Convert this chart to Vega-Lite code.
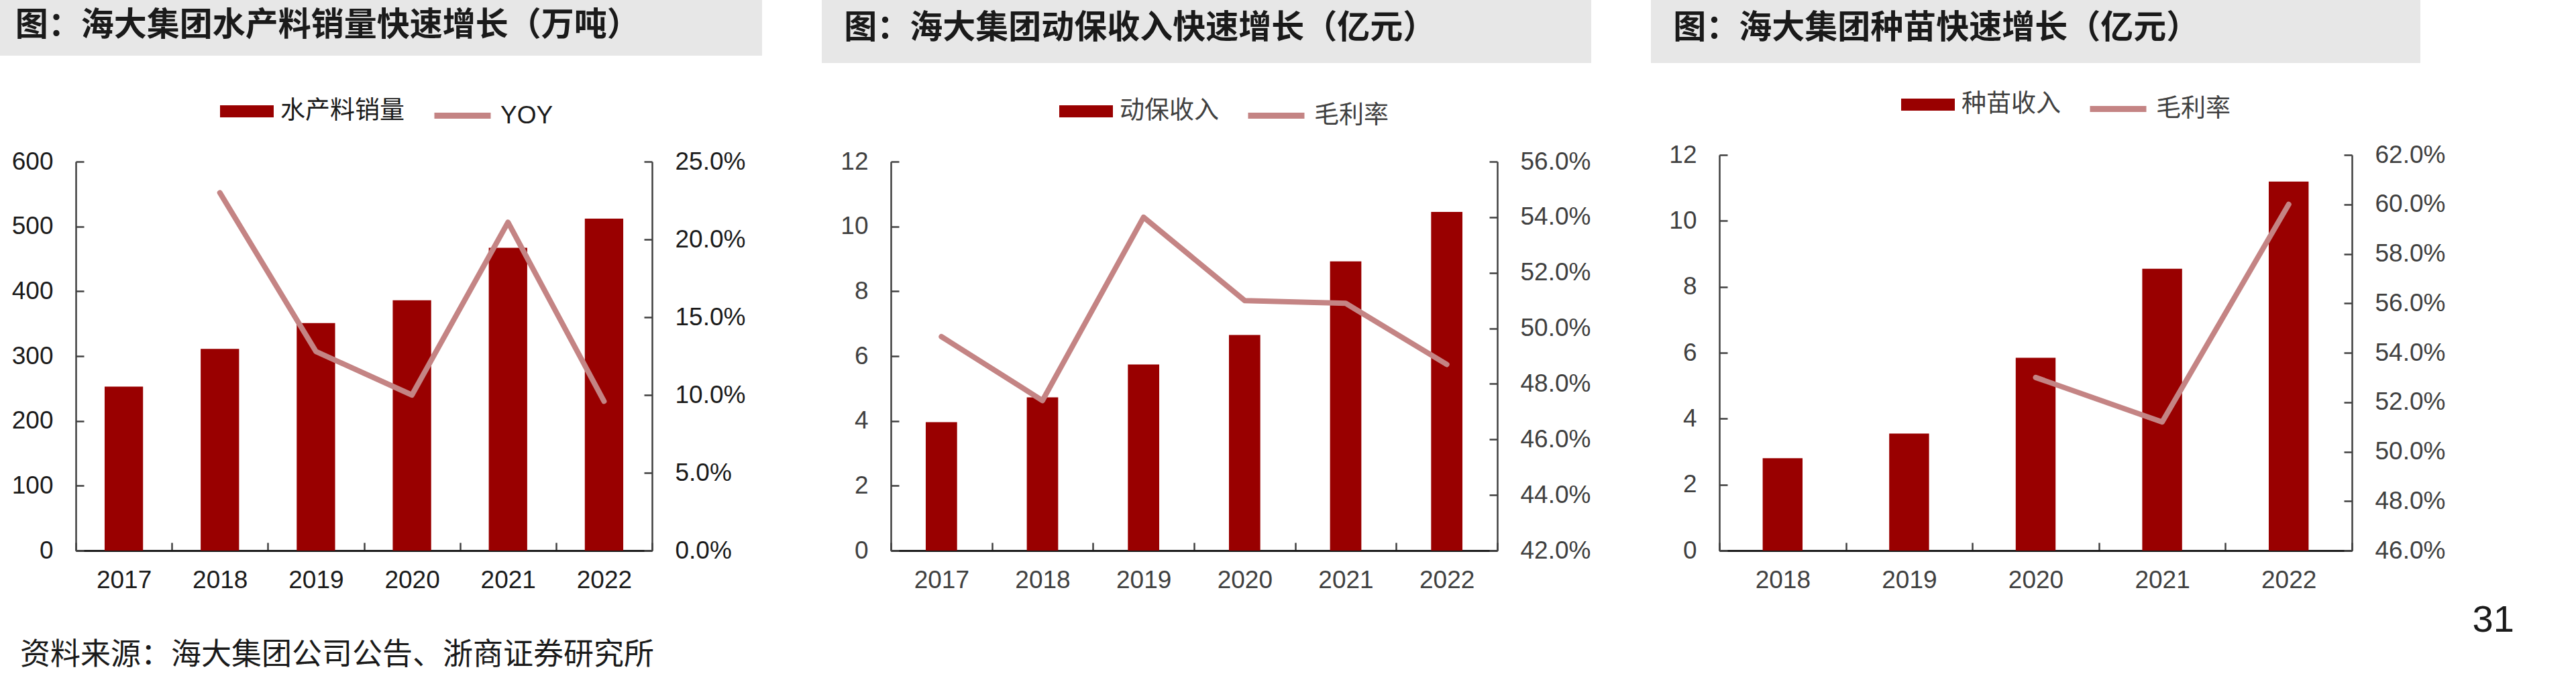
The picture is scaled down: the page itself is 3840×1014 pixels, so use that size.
{
  "$schema": "https://vega.github.io/schema/vega-lite/v6.json",
  "padding": 0,
  "background": "#ffffff",
  "spacing": 0,
  "resolve": {"scale": {"fill": "independent", "stroke": "independent"}, "legend": {"fill": "independent", "stroke": "independent"}},
  "vconcat": [
    {
      "spacing": 89,
      "resolve": {"scale": {"fill": "independent", "stroke": "independent"}, "legend": {"fill": "independent", "stroke": "independent"}},
      "hconcat": [
        {
          "spacing": 43,
          "resolve": {"scale": {"fill": "independent", "stroke": "independent"}, "legend": {"fill": "independent", "stroke": "independent"}},
          "vconcat": [
            {
              "width": 1136, "height": 83,
              "view": {"fill": "#e7e7e7", "stroke": null},
              "data": {"values": [{"t": "图：海大集团水产料销量快速增长（万吨）"}]},
              "mark": {"type": "text", "align": "left", "baseline": "middle", "font": "Noto Sans CJK SC", "fontWeight": "bold", "fontSize": 49, "color": "#1a1a1a"},
              "encoding": {
                "text": {"field": "t"},
                "x": {"datum": 0.02, "type": "quantitative", "scale": {"domain": [0, 1]}, "axis": null},
                "y": {"datum": 0.545, "type": "quantitative", "scale": {"domain": [0, 1]}, "axis": null}
              }
            },
            {
              "spacing": 16,
              "resolve": {"scale": {"fill": "independent", "stroke": "independent"}, "legend": {"fill": "independent", "stroke": "independent"}},
              "hconcat": [
                {"width": 1, "height": 1, "data": {"values": []}, "mark": "text", "encoding": {}},
                {
                  "width": 859, "height": 580,
                  "data": {"values": [
                    {"year": "2017", "metric": "水产料销量", "value": 253},
                    {"year": "2018", "metric": "水产料销量", "value": 311},
                    {"year": "2019", "metric": "水产料销量", "value": 351},
                    {"year": "2020", "metric": "水产料销量", "value": 386},
                    {"year": "2021", "metric": "水产料销量", "value": 467},
                    {"year": "2022", "metric": "水产料销量", "value": 512},
                    {"year": "2018", "metric": "YOY", "value": 0.230},
                    {"year": "2019", "metric": "YOY", "value": 0.128},
                    {"year": "2020", "metric": "YOY", "value": 0.100},
                    {"year": "2021", "metric": "YOY", "value": 0.211},
                    {"year": "2022", "metric": "YOY", "value": 0.096}
                  ]},
                  "layer": [
                    {
                      "transform": [{"filter": {"field": "metric", "equal": "水产料销量"}}],
                      "mark": {"type": "bar", "width": {"band": 0.4}},
                      "encoding": {
                        "x": {"field": "year", "type": "ordinal", "scale": {"paddingInner": 0, "paddingOuter": 0}, "axis": {"title": null, "tickBand": "extent", "labelAngle": 0}},
                        "y": {"field": "value", "type": "quantitative", "scale": {"domain": [0, 600], "nice": false}, "axis": {"orient": "left", "values": [0, 100, 200, 300, 400, 500, 600], "title": null}},
                        "fill": {"field": "metric", "type": "nominal", "scale": {"domain": ["水产料销量"], "range": ["#990000"]}, "legend": {"legendX": 215, "legendY": -115, "symbolType": "M-1,-0.225H1V0.225H-1Z", "symbolSize": 6400, "symbolStrokeWidth": 0}}
                      }
                    },
                    {
                      "transform": [{"filter": {"field": "metric", "equal": "YOY"}}],
                      "mark": {"type": "line", "strokeWidth": 8, "strokeCap": "round", "strokeJoin": "round"},
                      "encoding": {
                        "x": {"field": "year", "type": "ordinal"},
                        "y": {"field": "value", "type": "quantitative", "scale": {"domain": [0, 0.25], "nice": false}, "axis": {"orient": "right", "values": [0, 0.05, 0.1, 0.15, 0.2, 0.25], "format": ".1%", "title": null}},
                        "stroke": {"field": "metric", "type": "nominal", "scale": {"domain": ["YOY"], "range": ["#c48484"]}, "legend": {"legendX": 530, "legendY": -115, "symbolType": "stroke", "symbolSize": 7056, "symbolStrokeWidth": 9}}
                      }
                    }
                  ],
                  "resolve": {"scale": {"y": "independent"}}
                }
              ]
            }
          ]
        },
        {
          "spacing": 32,
          "resolve": {"scale": {"fill": "independent", "stroke": "independent"}, "legend": {"fill": "independent", "stroke": "independent"}},
          "vconcat": [
            {
              "width": 1147, "height": 94,
              "view": {"fill": "#e7e7e7", "stroke": null},
              "data": {"values": [{"t": "图：海大集团动保收入快速增长（亿元）"}]},
              "mark": {"type": "text", "align": "left", "baseline": "middle", "font": "Noto Sans CJK SC", "fontWeight": "bold", "fontSize": 49, "color": "#1a1a1a"},
              "encoding": {
                "text": {"field": "t"},
                "x": {"datum": 0.029, "type": "quantitative", "scale": {"domain": [0, 1]}, "axis": null},
                "y": {"datum": 0.548, "type": "quantitative", "scale": {"domain": [0, 1]}, "axis": null}
              }
            },
            {
              "spacing": 26,
              "resolve": {"scale": {"fill": "independent", "stroke": "independent"}, "legend": {"fill": "independent", "stroke": "independent"}},
              "hconcat": [
                {"width": 1, "height": 1, "data": {"values": []}, "mark": "text", "encoding": {}},
                {
                  "width": 904, "height": 580,
                  "data": {"values": [
                    {"year": "2017", "metric": "动保收入", "value": 3.96},
                    {"year": "2018", "metric": "动保收入", "value": 4.73},
                    {"year": "2019", "metric": "动保收入", "value": 5.74},
                    {"year": "2020", "metric": "动保收入", "value": 6.65},
                    {"year": "2021", "metric": "动保收入", "value": 8.92},
                    {"year": "2022", "metric": "动保收入", "value": 10.45},
                    {"year": "2017", "metric": "毛利率", "value": 0.497},
                    {"year": "2018", "metric": "毛利率", "value": 0.474},
                    {"year": "2019", "metric": "毛利率", "value": 0.540},
                    {"year": "2020", "metric": "毛利率", "value": 0.510},
                    {"year": "2021", "metric": "毛利率", "value": 0.509},
                    {"year": "2022", "metric": "毛利率", "value": 0.487}
                  ]},
                  "layer": [
                    {
                      "transform": [{"filter": {"field": "metric", "equal": "动保收入"}}],
                      "mark": {"type": "bar", "width": {"band": 0.31}},
                      "encoding": {
                        "x": {"field": "year", "type": "ordinal", "scale": {"paddingInner": 0, "paddingOuter": 0}, "axis": {"title": null, "tickBand": "extent", "labelAngle": 0, "labelColor": "#404040"}},
                        "y": {"field": "value", "type": "quantitative", "scale": {"domain": [0, 12], "nice": false}, "axis": {"orient": "left", "values": [0, 2, 4, 6, 8, 10, 12], "labelColor": "#404040", "title": null}},
                        "fill": {"field": "metric", "type": "nominal", "scale": {"domain": ["动保收入"], "range": ["#990000"]}, "legend": {"legendX": 251, "legendY": -115, "labelColor": "#404040", "symbolType": "M-1,-0.225H1V0.225H-1Z", "symbolSize": 6400, "symbolStrokeWidth": 0}}
                      }
                    },
                    {
                      "transform": [{"filter": {"field": "metric", "equal": "毛利率"}}],
                      "mark": {"type": "line", "strokeWidth": 8, "strokeCap": "round", "strokeJoin": "round"},
                      "encoding": {
                        "x": {"field": "year", "type": "ordinal"},
                        "y": {"field": "value", "type": "quantitative", "scale": {"domain": [0.42, 0.56], "nice": false, "zero": false}, "axis": {"orient": "right", "values": [0.42, 0.44, 0.46, 0.48, 0.50, 0.52, 0.54, 0.56], "format": ".1%", "labelColor": "#404040", "title": null}},
                        "stroke": {"field": "metric", "type": "nominal", "scale": {"domain": ["毛利率"], "range": ["#c48484"]}, "legend": {"legendX": 528, "legendY": -115, "labelColor": "#404040", "symbolType": "stroke", "symbolSize": 7056, "symbolStrokeWidth": 9}}
                      }
                    }
                  ],
                  "resolve": {"scale": {"y": "independent"}}
                }
              ]
            }
          ]
        },
        {
          "spacing": 22,
          "resolve": {"scale": {"fill": "independent", "stroke": "independent"}, "legend": {"fill": "independent", "stroke": "independent"}},
          "vconcat": [
            {
              "width": 1147, "height": 94,
              "view": {"fill": "#e7e7e7", "stroke": null},
              "data": {"values": [{"t": "图：海大集团种苗快速增长（亿元）"}]},
              "mark": {"type": "text", "align": "left", "baseline": "middle", "font": "Noto Sans CJK SC", "fontWeight": "bold", "fontSize": 49, "color": "#1a1a1a"},
              "encoding": {
                "text": {"field": "t"},
                "x": {"datum": 0.029, "type": "quantitative", "scale": {"domain": [0, 1]}, "axis": null},
                "y": {"datum": 0.548, "type": "quantitative", "scale": {"domain": [0, 1]}, "axis": null}
              }
            },
            {
              "spacing": 25,
              "resolve": {"scale": {"fill": "independent", "stroke": "independent"}, "legend": {"fill": "independent", "stroke": "independent"}},
              "hconcat": [
                {"width": 1, "height": 1, "data": {"values": []}, "mark": "text", "encoding": {}},
                {
                  "width": 943, "height": 590,
                  "data": {"values": [
                    {"year": "2018", "metric": "种苗收入", "value": 2.80},
                    {"year": "2019", "metric": "种苗收入", "value": 3.55},
                    {"year": "2020", "metric": "种苗收入", "value": 5.85},
                    {"year": "2021", "metric": "种苗收入", "value": 8.55},
                    {"year": "2022", "metric": "种苗收入", "value": 11.19},
                    {"year": "2020", "metric": "毛利率", "value": 0.530},
                    {"year": "2021", "metric": "毛利率", "value": 0.512},
                    {"year": "2022", "metric": "毛利率", "value": 0.600}
                  ]},
                  "layer": [
                    {
                      "transform": [{"filter": {"field": "metric", "equal": "种苗收入"}}],
                      "mark": {"type": "bar", "width": {"band": 0.315}},
                      "encoding": {
                        "x": {"field": "year", "type": "ordinal", "scale": {"paddingInner": 0, "paddingOuter": 0}, "axis": {"title": null, "tickBand": "extent", "labelAngle": 0, "labelColor": "#404040"}},
                        "y": {"field": "value", "type": "quantitative", "scale": {"domain": [0, 12], "nice": false}, "axis": {"orient": "left", "values": [0, 2, 4, 6, 8, 10, 12], "labelColor": "#404040", "title": null}},
                        "fill": {"field": "metric", "type": "nominal", "scale": {"domain": ["种苗收入"], "range": ["#990000"]}, "legend": {"legendX": 271, "legendY": -115, "labelColor": "#404040", "symbolType": "M-1,-0.225H1V0.225H-1Z", "symbolSize": 6400, "symbolStrokeWidth": 0}}
                      }
                    },
                    {
                      "transform": [{"filter": {"field": "metric", "equal": "毛利率"}}],
                      "mark": {"type": "line", "strokeWidth": 8, "strokeCap": "round", "strokeJoin": "round"},
                      "encoding": {
                        "x": {"field": "year", "type": "ordinal"},
                        "y": {"field": "value", "type": "quantitative", "scale": {"domain": [0.46, 0.62], "nice": false, "zero": false}, "axis": {"orient": "right", "values": [0.46, 0.48, 0.50, 0.52, 0.54, 0.56, 0.58, 0.60, 0.62], "format": ".1%", "labelColor": "#404040", "title": null}},
                        "stroke": {"field": "metric", "type": "nominal", "scale": {"domain": ["毛利率"], "range": ["#c48484"]}, "legend": {"legendX": 548, "legendY": -115, "labelColor": "#404040", "symbolType": "stroke", "symbolSize": 7056, "symbolStrokeWidth": 9}}
                      }
                    }
                  ],
                  "resolve": {"scale": {"y": "independent"}}
                }
              ]
            }
          ]
        }
      ]
    },
    {
      "width": 3840, "height": 130,
      "layer": [
        {
          "data": {"values": [{"t": "资料来源：海大集团公司公告、浙商证券研究所"}]},
          "mark": {"type": "text", "align": "left", "baseline": "middle", "font": "Noto Sans CJK SC", "fontSize": 45, "color": "#1a1a1a"},
          "encoding": {
            "text": {"field": "t"},
            "x": {"datum": 0.0078, "type": "quantitative", "scale": {"domain": [0, 1]}, "axis": null},
            "y": {"datum": 0.277, "type": "quantitative", "scale": {"domain": [0, 1]}, "axis": null}
          }
        },
        {
          "data": {"values": [{"t": "31"}]},
          "mark": {"type": "text", "align": "right", "baseline": "middle", "font": "Liberation Sans", "fontSize": 56, "color": "#1a1a1a"},
          "encoding": {
            "text": {"field": "t"},
            "x": {"datum": 0.976, "type": "quantitative", "scale": {"domain": [0, 1]}, "axis": null},
            "y": {"datum": 0.677, "type": "quantitative", "scale": {"domain": [0, 1]}, "axis": null}
          }
        }
      ]
    }
  ],
  "config": {
    "view": {"stroke": null},
    "axis": {
      "grid": false,
      "domainColor": "#404040", "domainWidth": 2.5,
      "tickColor": "#404040", "tickWidth": 2.5, "tickSize": -12,
      "labelFont": "Liberation Sans", "labelFontSize": 37, "labelColor": "#1a1a1a",
      "labelPadding": 46, "titleFont": "Liberation Sans"
    },
    "axisX": {"domainColor": "#1a1a1a", "domainWidth": 3, "labelPadding": 38},
    "legend": {
      "orient": "none", "title": null,
      "labelFont": "Liberation Sans, Noto Sans CJK SC", "labelFontSize": 37, "labelColor": "#1a1a1a",
      "labelOffset": 10, "labelLimit": 500
    }
  }
}
